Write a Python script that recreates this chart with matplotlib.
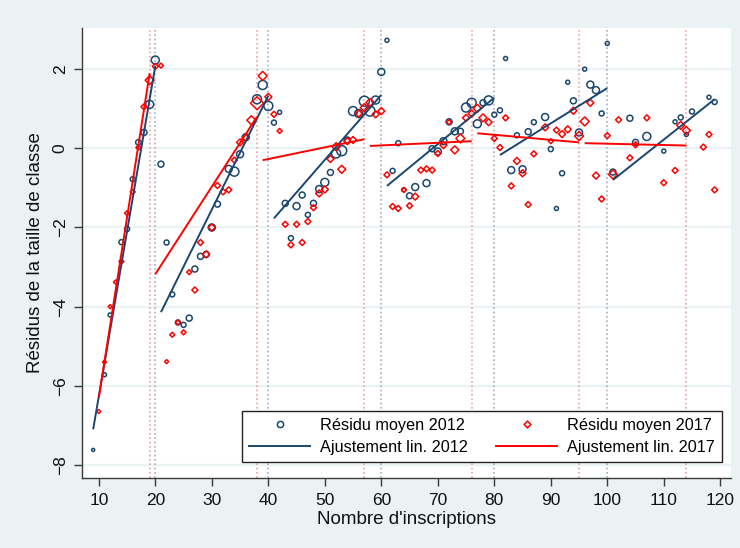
import matplotlib
matplotlib.use('Agg')
import matplotlib.pyplot as plt
import numpy as np
from matplotlib.lines import Line2D

plt.rcParams['font.family'] = ['Liberation Sans', 'DejaVu Sans']

# ---------------- data ----------------
# 2012 mean residuals (x = enrolment, y = residual, w = relative weight -> marker size)
x12 = [9, 11, 12, 14, 15, 16, 17, 18, 19, 20, 21, 22, 23, 24, 25, 26, 27, 28, 29, 30,
       31, 33, 34, 35, 36, 38, 39, 40, 41, 42, 43, 44, 45, 46, 47, 48, 49, 50, 51, 52,
       53, 54, 55, 56, 57, 58, 59, 60, 61, 62, 63, 64, 65, 66, 68, 69, 70, 71, 72, 73,
       74, 75, 76, 77, 78, 79, 80, 81, 82, 83, 84, 85, 86, 87, 89, 90, 91, 92, 93, 94,
       95, 96, 97, 98, 99, 100, 101, 104, 105, 107, 110, 112, 113, 114, 115, 118, 119]
y12 = [-7.62, -5.72, -4.21, -2.37, -2.04, -0.78, 0.15, 0.40, 1.11, 2.23, -0.40, -2.38, -3.69, -4.40, -4.46, -4.29, -3.05, -2.73, -2.68, -2.00,
       -1.41, -0.52, -0.59, -0.15, 0.28, 1.24, 1.60, 1.07, 0.65, 0.91, -1.39, -2.27, -1.46, -1.18, -1.68, -1.39, -1.03, -0.86, -0.61, -0.13,
       -0.06, 0.21, 0.94, 0.88, 1.19, 0.94, 1.22, 1.93, 2.73, -0.57, 0.13, -1.05, -1.20, -0.98, -0.88, -0.01, -0.08, 0.18, 0.67, 0.43,
       0.43, 1.03, 1.15, 0.62, 1.15, 1.21, 0.85, 0.96, 2.27, -0.55, 0.33, -0.53, 0.42, 0.66, 0.79, -0.02, -1.52, -0.63, 1.67, 1.20,
       0.40, 2.00, 1.61, 1.47, 0.88, 2.65, -0.60, 0.76, 0.15, 0.30, -0.07, 0.67, 0.78, 0.35, 0.93, 1.29, 1.17]
w12 = [3, 4, 4, 5, 5, 5, 5.5, 6, 8, 8, 6, 5, 5, 5, 5, 6, 6, 6, 6, 7,
       6, 7, 9, 7, 7, 9, 9, 9, 5, 4, 6, 5, 7, 6, 5, 6, 7, 8, 6, 9,
       10, 6, 9, 8, 10, 10, 8, 7, 4, 5, 5, 4, 6, 7, 7, 6, 7, 7, 6, 7,
       6, 9, 9, 8, 6, 9, 5, 5, 4, 7, 5, 7, 6, 5, 7, 5, 4, 5, 4, 6,
       7, 4, 7, 7, 5, 4, 6, 6, 6, 8, 4, 4, 5, 4, 5, 4, 5]

# 2017 mean residuals
x17 = [10, 11, 12, 13, 14, 15, 16, 17, 18, 19, 20, 21, 22, 23, 24, 25, 26, 27, 28, 29,
       30, 31, 32, 33, 34, 35, 36, 37, 38, 39, 40, 41, 42, 43, 44, 45, 46, 47, 48, 49,
       50, 51, 52, 53, 54, 55, 56, 57, 58, 59, 60, 61, 62, 63, 64, 65, 66, 67, 68, 69,
       70, 71, 72, 73, 74, 75, 76, 77, 78, 79, 80, 81, 82, 83, 84, 85, 86, 87, 89, 90,
       91, 92, 93, 94, 95, 96, 97, 98, 99, 100, 101, 102, 104, 105, 107, 110, 112, 113, 114, 117,
       118, 119]
y17 = [-6.65, -5.40, -4.00, -3.38, -2.86, -1.64, -1.10, 0.02, 1.05, 1.72, 2.07, 2.09, -5.39, -4.71, -4.40, -4.65, -3.13, -3.58, -2.38, -2.68,
       -2.00, -0.94, -1.10, -1.05, -0.30, 0.15, 0.27, 0.71, 1.14, 1.83, 1.30, 0.86, 0.44, -1.92, -2.44, -1.92, -2.38, -1.85, -1.50, -1.14,
       -1.04, -0.27, 0.04, -0.53, 0.18, 0.21, 0.88, 1.03, 1.16, 0.86, 0.94, -0.67, -1.47, -1.52, -1.05, -1.45, -1.22, -0.55, -0.52, -0.55,
       -0.13, 0.08, 0.66, -0.04, 0.25, 0.77, 0.88, 1.01, 0.77, 0.66, 0.25, 0.02, 0.77, -0.95, -0.32, -0.63, -1.42, -0.14, 0.53, 0.18,
       0.46, 0.36, 0.48, 0.95, 0.31, 0.68, 1.15, -0.69, -1.28, 0.32, -0.66, 0.72, -0.24, 0.09, 0.77, -0.87, -0.56, 0.58, 0.45, 0.03,
       0.35, -1.05]
w17 = [4, 4, 4, 4.5, 5, 5, 5, 5, 6, 9, 6, 5, 4, 5, 5, 5, 5, 6, 6, 7,
       7, 6, 6, 6, 6, 7, 7, 9, 13, 9, 7, 6, 5, 6, 6, 6, 6, 6, 6, 7,
       7, 7, 8, 8, 7, 7, 7, 8, 8, 7, 7, 6, 6, 6, 5, 6, 7, 6, 6, 6,
       6, 7, 5, 8, 9, 7, 7, 8, 8, 7, 6, 6, 6, 6, 7, 7, 6, 6, 7, 5,
       6, 7, 7, 7, 9, 9, 7, 7, 6, 6, 9, 6, 6, 6, 6, 6, 6, 8, 8, 6,
       6, 6]

# piecewise linear fits (segment start/end)
fit12_x0 = [9, 21, 41, 61, 81, 101]
fit12_x1 = [20, 40, 60, 80, 100, 119]
fit12_y0 = [-7.10, -4.14, -1.77, -0.95, -0.17, -0.80]
fit12_y1 = [2.08, 1.33, 1.35, 1.28, 1.52, 1.24]

fit17_x0 = [10, 20, 39, 58, 77, 96]
fit17_x1 = [19, 38, 57, 76, 95, 114]
fit17_y0 = [-6.30, -3.18, -0.30, 0.06, 0.38, 0.13]
fit17_y1 = [1.90, 0.80, 0.23, 0.18, 0.15, 0.07]

# thresholds (vertical reference lines)
cut17 = [19, 38, 57, 76, 95, 114]
cut12 = [20, 40, 60, 80, 100]

xticks = [10, 20, 30, 40, 50, 60, 70, 80, 90, 100, 110, 120]
yticks = [-8, -6, -4, -2, 0, 2]

labels = ['Résidu moyen 2012', 'Ajustement lin. 2012',
          'Résidu moyen 2017', 'Ajustement lin. 2017']

# ---------------- style ----------------
BG = '#EAF2F3'
NAVY = '#1A476F'
RED = '#FF0000'
AXC = '#3A3A3A'

fig = plt.figure(figsize=(7.4, 5.48), dpi=100, facecolor=BG)
ax = fig.add_axes([81.7 / 740, 1 - 478 / 548, (731 - 81.7) / 740, (478 - 28) / 548])
ax.set_facecolor('white')
ax.set_xlim(6.97, 121.9)
ax.set_ylim(-8.33, 3.04)

ax.set_yticks(yticks)
ax.set_xticks(xticks)
ax.yaxis.grid(True, color=BG, lw=1.6)
ax.set_axisbelow(True)

for c in cut17:
    ax.axvline(c, color='#F2A0A8', ls=(0, (1, 1.6)), lw=1.2, zorder=1)
for c in cut12:
    ax.axvline(c, color='#9FB1C2', ls=(0, (1, 1.6)), lw=1.2, zorder=1)

px2pt = 0.72
s12 = [(w * px2pt) ** 2 for w in w12]
s17 = [(w * px2pt / 1.414) ** 2 for w in w17]
ax.scatter(x12, y12, s=s12, facecolors='none', edgecolors=NAVY, linewidths=1.1, zorder=3)
ax.scatter(x17, y17, s=s17, marker='D', facecolors='none', edgecolors=RED, linewidths=1.1, zorder=4)

for a, b, c, d in zip(fit12_x0, fit12_x1, fit12_y0, fit12_y1):
    ax.plot([a, b], [c, d], color=NAVY, lw=1.4, zorder=5, solid_capstyle='butt')
for a, b, c, d in zip(fit17_x0, fit17_x1, fit17_y0, fit17_y1):
    ax.plot([a, b], [c, d], color=RED, lw=1.4, zorder=6, solid_capstyle='butt')

for sp in ['top', 'right']:
    ax.spines[sp].set_visible(False)
for sp in ['left', 'bottom']:
    ax.spines[sp].set_color(AXC)
    ax.spines[sp].set_linewidth(1.0)

ax.tick_params(axis='both', direction='out', length=6, width=1.0, color=AXC,
               labelsize=12.5, labelcolor='#111111')
ax.tick_params(axis='x', pad=5)
ax.tick_params(axis='y', pad=4, labelrotation=90)
for lbl in ax.get_yticklabels():
    lbl.set_va('center')

ax.set_xlabel("Nombre d'inscriptions", fontsize=13.5, labelpad=2, color='#111111')
ax.set_ylabel('Résidus de la taille de classe', fontsize=13.5, labelpad=6, color='#111111')

handles = [
    Line2D([], [], ls='none', marker='o', ms=4.5, mfc='none', mec=NAVY, mew=1.1),
    Line2D([], [], color=NAVY, lw=1.4),
    Line2D([], [], ls='none', marker='D', ms=3.4, mfc='none', mec=RED, mew=1.1),
    Line2D([], [], color=RED, lw=1.4),
]
leg = ax.legend(handles, labels, ncol=2, loc='lower right', bbox_to_anchor=(0.986, 0.036),
                fontsize=11.7, frameon=True, fancybox=False, edgecolor='#222222',
                facecolor='white', framealpha=1, handlelength=3.8, handletextpad=0.6,
                columnspacing=1.7, labelspacing=0.45, borderpad=0.42, borderaxespad=0)
leg.get_frame().set_linewidth(1.0)
leg.set_zorder(10)

fig.savefig('out.png', dpi=100, facecolor=BG)
